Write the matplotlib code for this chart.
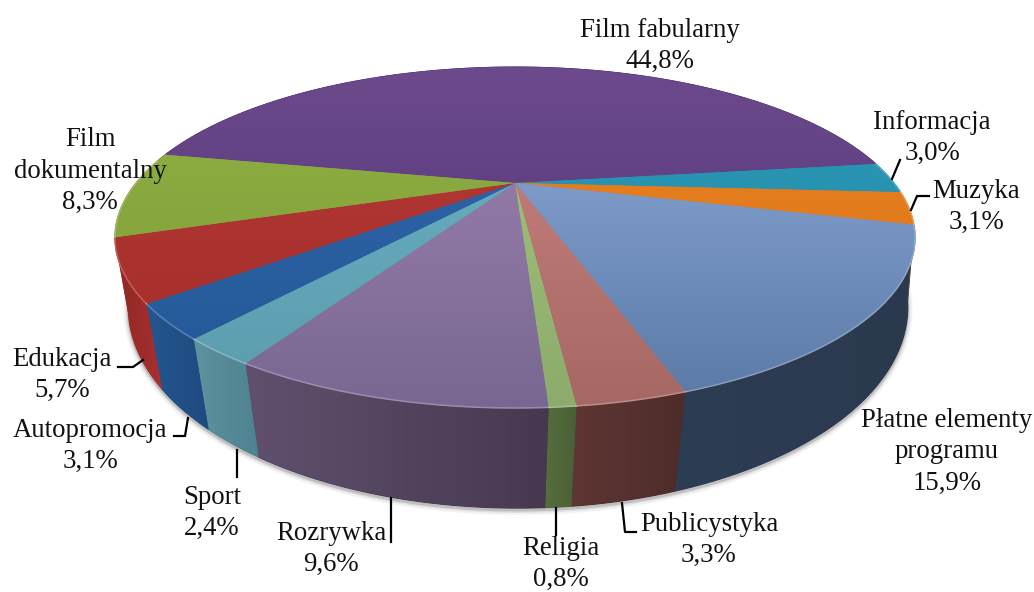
#!/usr/bin/env python3

import numpy as np
import matplotlib
matplotlib.use('Agg')
import matplotlib.pyplot as plt
from matplotlib.colors import to_rgb
from matplotlib.patches import Polygon

# data, clockwise from the back left
labels = ['Film fabularny', 'Informacja', 'Muzyka', 'Płatne elementy\nprogramu',
          'Publicystyka', 'Religia', 'Rozrywka', 'Sport', 'Autopromocja',
          'Edukacja', 'Film\ndokumentalny']
values = [44.8, 3.0, 3.1, 15.9, 3.3, 0.8, 9.6, 2.4, 3.1, 5.7, 8.3]

# top face colours (far, near) and side colour (left, right)
top_far = ['#6d4a8c', '#2a9dbd', '#ea8422', '#8fabdc', '#cc8482', '#a5c880',
           '#9f82b2', '#68b2c4', '#3268ac', '#b53a36', '#92b244']
top_near = ['#4b3174', '#25829b', '#d87016', '#5a79a4', '#a66864', '#8cab6c',
            '#786891', '#5c9cad', '#225796', '#a32d29', '#7a9836']
side_left = ['#4f3478', '#27869f', '#dc7418', '#2d3d54', '#5e3634', '#566e3e',
             '#60506e', '#5d929f', '#24568f', '#8e2824', '#8e2824']
side_right = ['#4f3478', '#27869f', '#dc7418', '#2b394e', '#4e2c2a', '#4a5f36',
              '#46394f', '#4f8290', '#1f4a80', '#a83030', '#a83030']

# label centres and leader lines in picture pixels
label_pos = [(660, 46), (932, 138), (976, 207), (947, 452), (709, 540), (561, 564),
             (331, 549), (212, 513), (90, 446), (62, 375), (90, 171)]
leaders = [None,
           [(900, 160), (892, 179)],
           [(929, 196), (917, 196), (911, 210)],
           None,
           [(622, 503), (625, 532), (636, 532)],
           [(556, 508), (556, 535)],
           [(391, 498), (391, 542)],
           [(237, 450), (237, 477)],
           [(174, 436), (185, 436), (188, 418)],
           [(118, 367), (133, 367), (143, 360)],
           None]

# projection of the pie disc, top rim and bottom rim
start = -78.7
top_par = (515.0, 183.0, 379.0, 153.0, 0.32, 0.0)
bot_par = (518.0, 249.0, 373.0, 184.0, 0.29, 0.5)


def disc_xy(theta, par):
    cx, cy, a, b, k, off = par
    t = np.radians(theta + off)
    u, v = np.sin(t), -np.cos(t)
    d = 1 - k * v
    return cx + a * u / d, cy + b * v / d


def fill_gradient(ax, xy, c0, c1, vertical, z):
    poly = Polygon(xy, closed=True, transform=ax.transData)
    xs, ys = xy[:, 0], xy[:, 1]
    w = np.linspace(0, 1, 128)[:, None]
    rgb = (1 - w) * np.array(to_rgb(c0)) + w * np.array(to_rgb(c1))
    img = rgb[:, None, :] if vertical else rgb[None, :, :]
    im = ax.imshow(img, extent=(xs.min(), xs.max(), ys.max(), ys.min()),
                   aspect='auto', zorder=z, interpolation='bilinear')
    im.set_clip_path(poly)


fig = plt.figure(figsize=(10.34, 5.92), dpi=100)
ax = fig.add_axes([0, 0, 1, 1])
ax.axis('off')

edges = start + np.cumsum([0] + values) * 3.6

# soft shadow under the front rim
th = np.linspace(90, 270, 200)
bx, by = disc_xy(th, bot_par)
for lw, alpha in [(7, 0.05), (4, 0.08), (2, 0.14)]:
    ax.plot(bx, by + 2, color='k', lw=lw, alpha=alpha, zorder=1)

# sides first, the top face covers the hidden parts
for i in range(len(values)):
    th = np.linspace(edges[i], edges[i + 1], 60)
    tx, ty = disc_xy(th, top_par)
    bx, by = disc_xy(th, bot_par)
    xy = np.column_stack([np.r_[tx, bx[::-1]], np.r_[ty, by[::-1]]])
    ax.fill(xy[:, 0], xy[:, 1], color=side_right[i], lw=0.8, zorder=2)
    fill_gradient(ax, xy, side_left[i], side_right[i], False, 2.1)

for i in range(len(values)):
    th = np.linspace(edges[i], edges[i + 1], 120)
    tx, ty = disc_xy(th, top_par)
    xy = np.column_stack([np.r_[top_par[0], tx], np.r_[top_par[1], ty]])
    # colour follows height on the whole disc
    ymin, ymax = 67.0, 408.0
    f0 = (xy[:, 1].min() - ymin) / (ymax - ymin)
    f1 = (xy[:, 1].max() - ymin) / (ymax - ymin)
    cfar, cnear = np.array(to_rgb(top_far[i])), np.array(to_rgb(top_near[i]))
    ax.fill(xy[:, 0], xy[:, 1], color=(cfar + cnear) / 2, lw=0.8, zorder=3)
    fill_gradient(ax, xy, cfar + (cnear - cfar) * f0, cfar + (cnear - cfar) * f1, True, 3.1)
    # light bevel along the front rim
    front = np.cos(np.radians(th)) < 0.15
    ax.plot(tx[front], ty[front], color='w', lw=1.2, alpha=0.22, zorder=4)

ax.set_xlim(0, 1034)
ax.set_ylim(592, 0)

for name, val, pos, lead in zip(labels, values, label_pos, leaders):
    txt = name + '\n' + ('%.1f%%' % val).replace('.', ',')
    ax.text(pos[0], pos[1], txt, ha='center', va='center', family='Liberation Serif',
            fontsize=19.3, linespacing=1.35, color='#111111', zorder=6)
    if lead is not None:
        ax.plot([p[0] for p in lead], [p[1] for p in lead], color='k', lw=1.6, zorder=5)

plt.savefig('out.png', dpi=100)
